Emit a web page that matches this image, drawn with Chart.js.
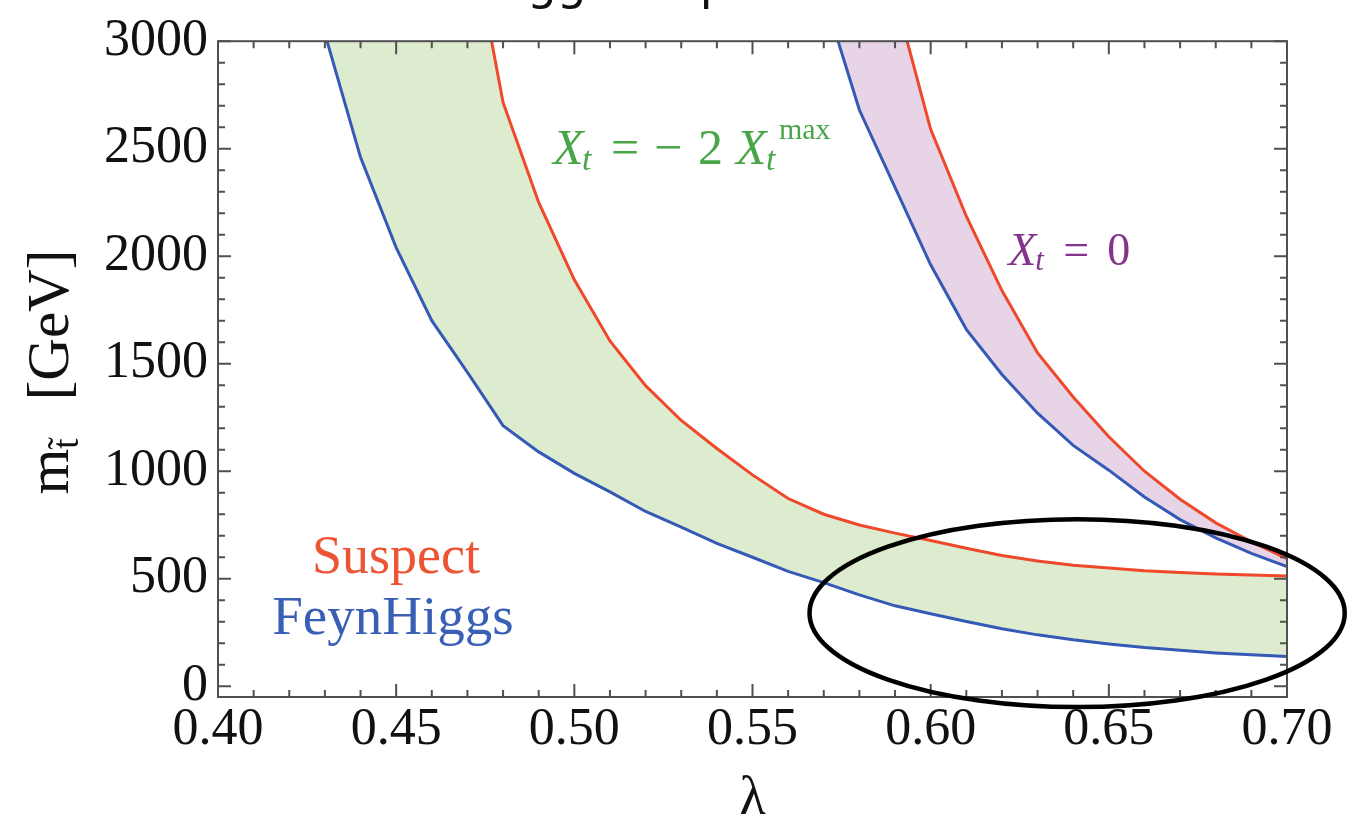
<!DOCTYPE html>
<html>
<head>
<meta charset="utf-8">
<script src="https://cdn.jsdelivr.net/npm/chart.js@4.4.1/dist/chart.umd.min.js"></script>
<style>
html,body{margin:0;padding:0;background:#fff;overflow:hidden}
#wrap{width:1369px;height:829px;position:relative}
</style>
</head>
<body>
<div id="wrap"><canvas id="c" width="1369" height="829"></canvas></div>
<script>
// ---------------- data ----------------
// X_t = -2 X_t^max band
const lamFH_neg = [0.43,0.44,0.45,0.46,0.47,0.48,0.49,0.50,0.51,0.52,0.53,0.54,0.55,0.56,0.57,0.58,0.59,0.60,0.61,0.62,0.63,0.64,0.65,0.66,0.67,0.68,0.69,0.70];
const mFH_neg   = [3035,2460,2040,1700,1460,1212,1090,990,904,813,740,664,600,534,482,425,374,337,301,267,239,216,197,180,167,155,146,138];
const lamSus_neg = [0.47,0.48,0.49,0.50,0.51,0.52,0.53,0.54,0.55,0.56,0.57,0.58,0.59,0.60,0.61,0.62,0.63,0.64,0.65,0.66,0.67,0.68,0.69,0.70];
const mSus_neg   = [3600,2715,2250,1890,1606,1398,1236,1106,983,873,800,750,712,678,642,608,583,563,550,537,529,522,517,513];
// X_t = 0 band
const lamFH_0 = [0.57,0.58,0.59,0.60,0.61,0.62,0.63,0.64,0.65,0.66,0.67,0.68,0.69,0.70];
const mFH_0   = [3215,2680,2320,1960,1660,1450,1270,1120,1005,880,775,690,618,557];
const lamSus_0 = [0.59,0.60,0.61,0.62,0.63,0.64,0.65,0.66,0.67,0.68,0.69,0.70];
const mSus_0   = [3211,2590,2186,1840,1550,1345,1160,1000,870,760,672,594];

// axis ticks
const xTicks = [0.40,0.45,0.50,0.55,0.60,0.65,0.70];
const yTicks = [0,500,1000,1500,2000,2500,3000];
const xMinorStep = 0.01;
const yMinorStep = 100;

// annotation anchors (data coordinates)
const labelSuspect   = {x: 0.4264, y: 527};
const labelFeynHiggs = {x: 0.4152, y: 245};
const labelNeg       = {x: 0.4940, y: 2428};
const labelZero      = {x: 0.6218, y: 1957};
const ellipse        = {cx: 0.6411, cy: 340, rx: 0.0751, ry: 437};

// ---------------- styles ----------------
const RED = 'rgb(239,72,42)';
const BLUE = 'rgb(52,90,182)';
const GREEN_FILL = 'rgb(221,236,207)';
const PURPLE_FILL = 'rgb(231,212,231)';
const GREEN_TXT = 'rgb(72,166,72)';
const PURPLE_TXT = 'rgb(132,52,140)';
const FRAME = '#505050';
const SERIF = '"Liberation Serif", "Times New Roman", serif';

const toPts = (xs, ys) => xs.map((x, i) => ({x: x, y: ys[i]}));
const band = (lx, ly, ux, uy) => toPts(lx, ly).concat(toPts(ux, uy).reverse());

const lineDs = (label, xs, ys, color) => ({
  label, data: toPts(xs, ys), borderColor: color, borderWidth: 3,
  pointRadius: 0, fill: false, tension: 0, order: 0
});
const bandDs = (label, pts, color) => ({
  label, data: pts, backgroundColor: color, borderWidth: 0, borderColor: 'rgba(0,0,0,0)',
  pointRadius: 0, fill: 'shape', tension: 0, order: 10
});

// ---------------- plugins ----------------
const frameTicks = {
  id: 'frameTicks',
  afterDatasetsDraw(chart) {
    const {ctx, chartArea: a, scales: {x, y}} = chart;
    ctx.save();
    ctx.strokeStyle = FRAME;
    ctx.lineWidth = 2;
    ctx.beginPath();
    const nx = Math.round((x.max - x.min) / xMinorStep);
    for (let i = 0; i <= nx; i++) {
      const v = x.min + i * xMinorStep;
      const len = (i % 5 === 0) ? 13 : 7;
      const px = x.getPixelForValue(v);
      ctx.moveTo(px, a.bottom); ctx.lineTo(px, a.bottom - len);
      ctx.moveTo(px, a.top); ctx.lineTo(px, a.top + len);
    }
    const ny = Math.round(yTicks[yTicks.length - 1] / yMinorStep);
    for (let i = 0; i <= ny; i++) {
      const v = i * yMinorStep;
      const len = (i % 5 === 0) ? 13 : 7;
      const py = y.getPixelForValue(v);
      ctx.moveTo(a.left, py); ctx.lineTo(a.left + len, py);
      ctx.moveTo(a.right, py); ctx.lineTo(a.right - len, py);
    }
    ctx.stroke();
    ctx.strokeRect(a.left, a.top, a.right - a.left, a.bottom - a.top);
    ctx.restore();
  }
};

function runs(ctx, x0, y0, items, color) {
  ctx.fillStyle = color;
  ctx.textBaseline = 'alphabetic';
  ctx.textAlign = 'left';
  for (const it of items) {
    ctx.font = it.f;
    ctx.fillText(it.t, x0 + it.dx, y0 + (it.dy || 0));
  }
}

const annotations = {
  id: 'annotations',
  afterDraw(chart) {
    const {ctx, chartArea: a, scales: {x, y}} = chart;
    ctx.save();
    // legend-like labels
    ctx.textBaseline = 'alphabetic';
    ctx.font = '54px ' + SERIF;
    ctx.fillStyle = 'rgb(236,84,52)';
    ctx.fillText('Suspect', x.getPixelForValue(labelSuspect.x), y.getPixelForValue(labelSuspect.y));
    ctx.font = '55px ' + SERIF;
    ctx.fillStyle = 'rgb(58,96,182)';
    ctx.fillText('FeynHiggs', x.getPixelForValue(labelFeynHiggs.x), y.getPixelForValue(labelFeynHiggs.y));

    // X_t = - 2 X_t^max
    const it50 = 'italic 50px ' + SERIF, it34 = 'italic 34px ' + SERIF, r50 = '50px ' + SERIF, r30 = '30px ' + SERIF;
    runs(ctx, x.getPixelForValue(labelNeg.x), y.getPixelForValue(labelNeg.y), [
      {t: 'X', f: it50, dx: 0},
      {t: 't', f: it34, dx: 29, dy: 6},
      {t: '=', f: r50, dx: 58},
      {t: '\u2212', f: r50, dx: 101},
      {t: '2', f: r50, dx: 145},
      {t: 'X', f: it50, dx: 183},
      {t: 't', f: it34, dx: 213, dy: 6},
      {t: 'max', f: r30, dx: 226, dy: -25}
    ], GREEN_TXT);

    // X_t = 0
    const it46 = 'italic 46px ' + SERIF, it31 = 'italic 31px ' + SERIF, r46 = '46px ' + SERIF;
    runs(ctx, x.getPixelForValue(labelZero.x), y.getPixelForValue(labelZero.y), [
      {t: 'X', f: it46, dx: 0},
      {t: 't', f: it31, dx: 27, dy: 5},
      {t: '=', f: r46, dx: 55},
      {t: '0', f: r46, dx: 99}
    ], PURPLE_TXT);

    // y-axis title  m_{t~} [GeV]
    ctx.save();
    const cy = (a.top + a.bottom) / 2 + 3;
    ctx.translate(a.left - 150, cy);
    ctx.rotate(-Math.PI / 2);
    ctx.fillStyle = '#111';
    ctx.font = '59px ' + SERIF;
    const wm = ctx.measureText('m').width;
    ctx.font = '37px ' + SERIF;
    const wt = ctx.measureText('t').width;
    ctx.font = '59px ' + SERIF;
    const gap = 38;
    const wg = ctx.measureText('[GeV]').width;
    const total = wm + wt + gap + wg;
    let sx = -total / 2;
    ctx.fillText('m', sx, 0);
    sx += wm;
    ctx.font = '37px ' + SERIF;
    ctx.fillText('t\u0303', sx, 10);
    sx += wt + gap;
    ctx.font = '59px ' + SERIF;
    ctx.fillText('[GeV]', sx, 0);
    ctx.restore();

    // ellipse annotation
    const ecx = x.getPixelForValue(ellipse.cx);
    const ecy = y.getPixelForValue(ellipse.cy);
    const erx = x.getPixelForValue(ellipse.cx + ellipse.rx) - ecx;
    const ery = ecy - y.getPixelForValue(ellipse.cy + ellipse.ry);
    ctx.beginPath();
    ctx.ellipse(ecx, ecy, erx, ery, 0, 0, Math.PI * 2);
    ctx.strokeStyle = '#000';
    ctx.lineWidth = 4.5;
    ctx.stroke();

    // cut-off title at top edge
    ctx.font = '47px "DejaVu Sans", sans-serif';
    ctx.fillStyle = '#111';
    const hi = ctx.measureText('Hi').width;
    ctx.fillText('Higgs-stop', 527 - hi, -1);
    ctx.restore();
  }
};

// ---------------- chart ----------------
new Chart(document.getElementById('c'), {
  type: 'line',
  data: {
    datasets: [
      lineDs('Suspect, Xt = -2 Xt^max', lamSus_neg, mSus_neg, RED),
      lineDs('FeynHiggs, Xt = -2 Xt^max', lamFH_neg, mFH_neg, BLUE),
      lineDs('Suspect, Xt = 0', lamSus_0, mSus_0, RED),
      lineDs('FeynHiggs, Xt = 0', lamFH_0, mFH_0, BLUE),
      bandDs('band Xt = -2 Xt^max', band(lamFH_neg, mFH_neg, lamSus_neg, mSus_neg), GREEN_FILL),
      bandDs('band Xt = 0', band(lamFH_0, mFH_0, lamSus_0, mSus_0), PURPLE_FILL)
    ]
  },
  options: {
    responsive: false,
    animation: false,
    devicePixelRatio: 1,
    parsing: true,
    layout: {padding: {top: 36, right: 82, bottom: 0, left: 0}},
    plugins: {legend: {display: false}, tooltip: {enabled: false}, title: {display: false}},
    scales: {
      x: {
        type: 'linear', min: 0.40, max: 0.70,
        afterBuildTicks: s => { s.ticks = xTicks.map(v => ({value: v})); },
        afterFit: s => { s.height = 132; },
        ticks: {
          callback: v => Number(v).toFixed(2),
          font: {family: SERIF, size: 52}, color: '#111', padding: 2,
          maxRotation: 0, autoSkip: false
        },
        grid: {display: false, drawTicks: false},
        border: {display: false},
        title: {display: true, text: '\u03bb', font: {family: SERIF, size: 54, lineHeight: 1}, color: '#111', padding: {top: 0, bottom: 2}}
      },
      y: {
        type: 'linear', min: -50, max: 3000,
        afterBuildTicks: s => { s.ticks = yTicks.map(v => ({value: v})); },
        afterFit: s => { s.width = 218; },
        ticks: {
          callback: v => String(v),
          font: {family: SERIF, size: 52}, color: '#111', padding: 10, autoSkip: false
        },
        grid: {display: false, drawTicks: false},
        border: {display: false}
      }
    }
  },
  plugins: [frameTicks, annotations]
});
</script>
</body>
</html>
